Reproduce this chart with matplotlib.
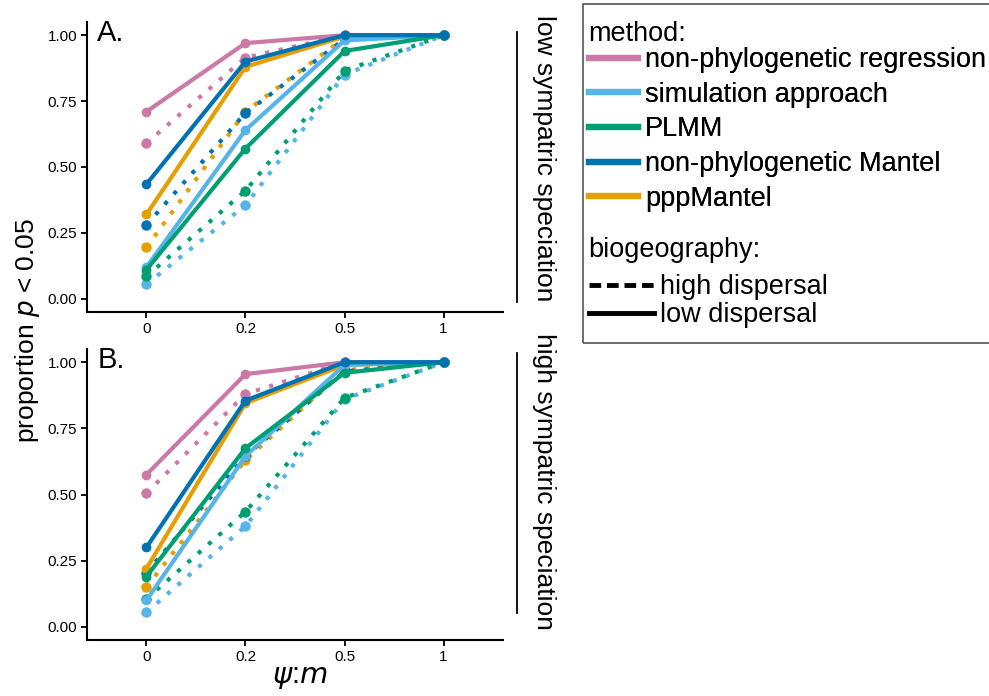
"""
Proportion of significant tests (p < 0.05) by method and biogeography
"""

import numpy as np
import matplotlib.pyplot as plt
from matplotlib.lines import Line2D
from matplotlib.patches import Rectangle

plt.rcParams['font.family'] = ['Liberation Sans', 'DejaVu Sans']

# data
x_labels = ['0', '0.2', '0.5', '1']
methods = ['non-phylogenetic regression', 'simulation approach', 'PLMM',
           'non-phylogenetic Mantel', 'pppMantel']
colors = ['#CC79A7', '#56B4E9', '#009E73', '#0072B2', '#E69F00']
panels = ['low sympatric speciation', 'high sympatric speciation']
panel_tags = ['A.', 'B.']

# low sympatric speciation (panel A)
a_low = {  # low dispersal -> solid
    'non-phylogenetic regression': [0.71, 0.97, 1.00, 1.00],
    'simulation approach':         [0.12, 0.64, 0.98, 1.00],
    'PLMM':                        [0.11, 0.57, 0.94, 1.00],
    'non-phylogenetic Mantel':     [0.435, 0.90, 1.00, 1.00],
    'pppMantel':                   [0.32, 0.88, 0.995, 1.00],
}
a_high = {  # high dispersal -> dotted
    'non-phylogenetic regression': [0.59, 0.915, 1.00, 1.00],
    'simulation approach':         [0.055, 0.355, 0.85, 1.00],
    'PLMM':                        [0.085, 0.41, 0.865, 1.00],
    'non-phylogenetic Mantel':     [0.28, 0.705, 0.985, 1.00],
    'pppMantel':                   [0.195, 0.71, 0.99, 1.00],
}
# high sympatric speciation (panel B)
b_low = {
    'non-phylogenetic regression': [0.575, 0.955, 1.00, 1.00],
    'simulation approach':         [0.10, 0.645, 0.99, 1.00],
    'PLMM':                        [0.19, 0.675, 0.96, 1.00],
    'non-phylogenetic Mantel':     [0.30, 0.855, 1.00, 1.00],
    'pppMantel':                   [0.22, 0.845, 0.99, 1.00],
}
b_high = {
    'non-phylogenetic regression': [0.505, 0.88, 1.00, 1.00],
    'simulation approach':         [0.055, 0.38, 0.86, 1.00],
    'PLMM':                        [0.105, 0.435, 0.865, 1.00],
    'non-phylogenetic Mantel':     [0.205, 0.645, 0.965, 1.00],
    'pppMantel':                   [0.15, 0.63, 0.97, 1.00],
}
panel_data = [(a_low, a_high), (b_low, b_high)]

draw_order = [0, 4, 1, 2, 3]
dot_style = (0, (1, 2.3))

fig = plt.figure(figsize=(9.89, 6.96), dpi=100)
W, H = 989, 696
axes_px = [(87, 22, 503, 312), (87, 349, 503, 640)]   # left, top, right, bottom
strip_y = [0.531, 0.546]
strip_line = [(0.034, 0.966), (0.093, 0.986)]

x = np.arange(len(x_labels))
for k, (low, high) in enumerate(panel_data):
    l, t, r, b = axes_px[k]
    ax = fig.add_axes([l / W, 1 - b / H, (r - l) / W, (b - t) / H])
    for i in draw_order:
        m = methods[i]
        ax.plot(x, high[m], color=colors[i], lw=3, ls=dot_style,
                dash_capstyle='butt', marker='o', ms=6.5, zorder=2)
    for i in draw_order:
        m = methods[i]
        ax.plot(x, low[m], color=colors[i], lw=3, ls='-',
                marker='o', ms=6, zorder=3)
    ax.set_xlim(-0.6, 3.6)
    ax.set_ylim(-0.05, 1.05)
    ax.set_xticks(x)
    ax.set_xticklabels(x_labels)
    ax.set_yticks([0, 0.25, 0.5, 0.75, 1.0])
    ax.set_yticklabels(['0.00', '0.25', '0.50', '0.75', '1.00'])
    ax.tick_params(labelsize=11, length=4, width=1.3, color='black',
                   labelcolor='black', pad=3)
    for s in ['top', 'right']:
        ax.spines[s].set_visible(False)
    for s in ['left', 'bottom']:
        ax.spines[s].set_linewidth(1.5)
        ax.spines[s].set_color('black')
    ax.text(0.025, 1.01, panel_tags[k], transform=ax.transAxes,
            fontsize=21, va='top', ha='left')
    # strip text with a side line
    ax.text(1.099, strip_y[k], panels[k], transform=ax.transAxes, rotation=270,
            fontsize=19, va='center', ha='center')
    ax.plot([1.034, 1.034], strip_line[k], transform=ax.transAxes,
            color='black', lw=1.3, clip_on=False)

fig.text(28 / W, 1 - 330 / H, 'proportion $p$ < 0.05', rotation=90,
         fontsize=19, va='center', ha='center')
fig.text(300 / W, 1 - 677 / H, r'$\psi$:$m$', fontsize=21,
         va='center', ha='center')

# legend box
fig.add_artist(Rectangle((583 / W, 1 - 343 / H), (1000 - 583) / W, (343 - 4) / H,
                         transform=fig.transFigure, fill=False,
                         edgecolor='#555555', lw=1.2))

fig.text(588 / W, 1 - 34 / H, 'method:', fontsize=19.5, va='center', ha='left')
method_handles = [Line2D([], [], color=c, lw=4.5, alpha=0.9) for c in colors]
leg1 = fig.legend(method_handles, methods, loc='upper left',
                  bbox_to_anchor=(589 / W, 1 - 47 / H), frameon=False,
                  fontsize=19.5, handlelength=1.8, handletextpad=0.27,
                  labelspacing=0.32, borderaxespad=0, borderpad=0.0)
fig.add_artist(leg1)

fig.text(588 / W, 1 - 250 / H, 'biogeography:', fontsize=19.5,
         va='center', ha='left')
bio_handles = [Line2D([], [], color='black', lw=3.5, ls=(0, (2.4, 1.2))),
               Line2D([], [], color='black', lw=3.5, ls='-')]
leg2 = fig.legend(bio_handles, ['high dispersal', 'low dispersal'],
                  loc='upper left', bbox_to_anchor=(589 / W, 1 - 274 / H),
                  frameon=False, fontsize=19.5, handlelength=2.4,
                  handletextpad=0.22, labelspacing=0.08,
                  borderaxespad=0, borderpad=0.0)

fig.savefig('out.png', dpi=100)
